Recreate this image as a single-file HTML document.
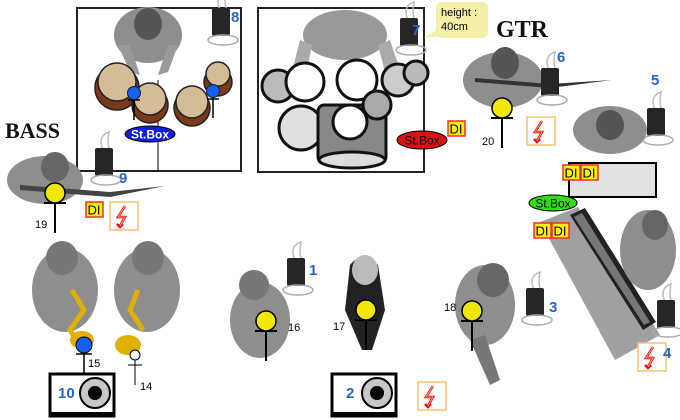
<!DOCTYPE html>
<html><head><meta charset="utf-8"><style>
html,body{margin:0;padding:0;background:#fff;width:680px;height:420px;overflow:hidden}
svg{display:block}
.n{font-family:"Liberation Sans",sans-serif;font-weight:bold;fill:#2a62d0;font-size:15px}
.l{font-family:"Liberation Sans",sans-serif;fill:#000;font-size:11px}
.di{font-family:"Liberation Sans",sans-serif;font-size:13px;fill:#000}
</style></head><body>
<svg width="680" height="420" viewBox="0 0 680 420" xmlns="http://www.w3.org/2000/svg">
<defs>
<g id="pack"><path d="M8 2 q-6 -14 6 -18 q-2 10 0 16" fill="none" stroke="#bbb" stroke-width="1.5"/><rect x="0" y="0" width="18" height="28" rx="2" fill="#262626"/><ellipse cx="11" cy="32" rx="15" ry="5" fill="none" stroke="#aaa" stroke-width="1.5"/></g>
<g id="pw"><rect x="0" y="0" width="28" height="28" fill="#fff" stroke="#f8c070" stroke-width="1.5"/><path d="M15 4 L8 15 L15 15 L10 24 M7 22 L10 25 L13 22" fill="none" stroke="#e81010" stroke-width="2.5"/><path d="M15 4 L8 15 L15 15 L10 24" fill="none" stroke="#ffb080" stroke-width="0.8"/></g>
<g id="dib"><rect x="0" y="0" width="17" height="15" fill="#ffee00" stroke="#e8302a" stroke-width="1.5"/><text x="1.5" y="12.5" class="di">DI</text></g>
<g id="mic"><line x1="0" y1="10" x2="0" y2="40" stroke="#000" stroke-width="2"/><line x1="-11" y1="10" x2="11" y2="10" stroke="#000" stroke-width="2"/><circle cx="0" cy="0" r="10" fill="#f0e800" stroke="#000" stroke-width="1.5"/></g>
<g id="spk"><rect x="0" y="0" width="64" height="42" fill="#fff" stroke="#000" stroke-width="3"/><rect x="0" y="38" width="64" height="5" fill="#000"/><circle cx="45" cy="19" r="15" fill="#c8c8c8" stroke="#000" stroke-width="2"/><circle cx="45" cy="19" r="7" fill="#000"/></g>
</defs>

<rect x="77" y="8" width="164" height="163" fill="#fff" stroke="#222" stroke-width="2"/>
<line x1="158" y1="80" x2="158" y2="171" stroke="#000" stroke-width="1"/>
<ellipse cx="148" cy="35" rx="34" ry="28" fill="#8e8e8e"/>
<ellipse cx="148" cy="24" rx="14" ry="16" fill="#555"/>
<path d="M118 45 L130 72 L140 75 L130 45Z M178 45 L168 72 L158 75 L168 45Z" fill="#999"/>
<g stroke="#222" stroke-width="1.5">
<circle cx="117" cy="88" r="22" fill="#7a3a18"/><circle cx="117" cy="82" r="19" fill="#d4bd96"/>
<circle cx="150" cy="105" r="18" fill="#7a3a18"/><circle cx="150" cy="99" r="16" fill="#d4bd96"/>
<circle cx="192" cy="108" r="18" fill="#7a3a18"/><circle cx="192" cy="102" r="16" fill="#d4bd96"/>
<circle cx="218" cy="82" r="14" fill="#7a3a18"/><circle cx="218" cy="74" r="12" fill="#d4bd96"/>
</g>
<line x1="134" y1="95" x2="134" y2="120" stroke="#000" stroke-width="1.5"/><line x1="128" y1="100" x2="140" y2="100" stroke="#000" stroke-width="1.5"/><circle cx="134" cy="93" r="6.5" fill="#1560f0" stroke="#123" />
<line x1="213" y1="93" x2="213" y2="118" stroke="#000" stroke-width="1.5"/><line x1="207" y1="99" x2="219" y2="99" stroke="#000" stroke-width="1.5"/><circle cx="213" cy="91" r="6.5" fill="#1560f0" stroke="#123"/>
<ellipse cx="150" cy="134" rx="25" ry="8" fill="#1020e0" stroke="#000"/>
<text x="150" y="138.5" text-anchor="middle" font-family="Liberation Sans,sans-serif" font-weight="bold" font-size="12" fill="#fff">St.Box</text>
<use href="#pack" x="212" y="8"/><text x="231" y="22" class="n">8</text>

<text x="5" y="138" font-family="Liberation Serif,serif" font-weight="bold" font-size="22" fill="#111">BASS</text>
<ellipse cx="45" cy="180" rx="38" ry="24" fill="#8e8e8e"/>
<ellipse cx="55" cy="167" rx="14" ry="15" fill="#666"/>
<path d="M20 190 L110 197 L165 186 L110 192 L20 185Z" fill="#444"/>
<use href="#pack" x="95" y="148"/><text x="119" y="183" class="n">9</text>
<use href="#mic" x="55" y="193"/><text x="35" y="228" class="l">19</text>
<use href="#dib" x="86" y="202"/><use href="#pw" x="110" y="202"/>

<rect x="258" y="8" width="166" height="164" fill="#fff" stroke="#222" stroke-width="2"/>
<ellipse cx="345" cy="35" rx="42" ry="25" fill="#999"/>
<path d="M300 40 L290 80 L305 80 L312 45Z M390 40 L400 70 L385 72 L378 45Z" fill="#aaa"/>
<g stroke="#111" stroke-width="3">
<circle cx="278" cy="86" r="16" fill="#bbb"/>
<circle cx="305" cy="82" r="19" fill="#fff"/>
<circle cx="357" cy="80" r="20" fill="#fff"/>
<circle cx="398" cy="80" r="16" fill="#ccc"/>
<circle cx="416" cy="73" r="12" fill="#bbb"/>
<circle cx="301" cy="128" r="22" fill="#e0e0e0"/>
<rect x="318" y="105" width="68" height="58" rx="6" fill="#888"/>
<ellipse cx="352" cy="160" rx="33" ry="8" fill="#ddd"/>
<circle cx="350" cy="122" r="17" fill="#fff"/>
<circle cx="377" cy="105" r="14" fill="#aaa"/>
</g>
<use href="#pack" x="400" y="18"/><text x="412" y="35" class="n">7</text>
<path d="M424 38 L440 28 L442 36Z" fill="#f4efa6"/>
<rect x="436" y="2" width="52" height="36" rx="6" fill="#f4efa6"/>
<text x="441" y="16" font-family="Liberation Sans,sans-serif" font-size="11">height :</text>
<text x="441" y="30" font-family="Liberation Sans,sans-serif" font-size="11">40cm</text>
<ellipse cx="422" cy="140" rx="25" ry="9" fill="#e01010" stroke="#000"/>
<text x="422" y="144.5" text-anchor="middle" font-family="Liberation Sans,sans-serif" font-size="12" fill="#000">St.Box</text>
<use href="#dib" x="448" y="121"/>

<text x="496" y="37" font-family="Liberation Serif,serif" font-weight="bold" font-size="24" fill="#111">GTR</text>
<ellipse cx="503" cy="80" rx="40" ry="28" fill="#8e8e8e"/>
<ellipse cx="505" cy="63" rx="14" ry="16" fill="#555"/>
<path d="M475 82 L550 88 L612 80 L550 84 L475 78Z" fill="#333"/>
<use href="#pack" x="541" y="68"/><text x="557" y="62" class="n">6</text>
<use href="#mic" x="502" y="108"/><text x="482" y="145" class="l">20</text>
<use href="#pw" x="527" y="117"/>
<use href="#pack" x="647" y="108"/><text x="651" y="85" class="n">5</text>
<ellipse cx="610" cy="130" rx="37" ry="24" fill="#8e8e8e"/>
<ellipse cx="610" cy="125" rx="14" ry="15" fill="#555"/>
<rect x="569" y="163" width="87" height="34" fill="#e2e2e2" stroke="#000" stroke-width="2"/>
<use href="#dib" x="563" y="165"/><use href="#dib" x="581" y="165"/>
<ellipse cx="553" cy="203" rx="24" ry="8" fill="#30e010" stroke="#000"/>
<text x="553" y="207.5" text-anchor="middle" font-family="Liberation Sans,sans-serif" font-size="12" fill="#000">St.Box</text>

<polygon points="540,222 578,207 660,335 615,360" fill="#a0a0a0"/>
<polygon points="570,215 585,208 656,322 643,330" fill="#222"/>
<polygon points="574,217 582,213 650,322 644,325" fill="#777"/>
<ellipse cx="648" cy="250" rx="28" ry="40" fill="#8e8e8e"/>
<ellipse cx="655" cy="225" rx="13" ry="15" fill="#666"/>
<use href="#dib" x="534" y="223"/><use href="#dib" x="552" y="223"/>
<use href="#pack" x="657" y="300"/>
<use href="#pw" x="638" y="343"/><text x="663" y="358" class="n">4</text>

<ellipse cx="65" cy="290" rx="33" ry="42" fill="#8e8e8e"/>
<ellipse cx="62" cy="258" rx="16" ry="17" fill="#777"/>
<path d="M72 290 L84 310 L70 330 L80 345" fill="none" stroke="#e0b000" stroke-width="5"/>
<ellipse cx="82" cy="340" rx="12" ry="9" fill="#e0b000"/>
<ellipse cx="147" cy="290" rx="33" ry="42" fill="#8e8e8e"/>
<ellipse cx="148" cy="258" rx="16" ry="17" fill="#777"/>
<path d="M138 290 L130 310 L143 330" fill="none" stroke="#e0b000" stroke-width="5"/>
<ellipse cx="128" cy="345" rx="13" ry="10" fill="#e0b000"/>
<line x1="84" y1="350" x2="84" y2="375" stroke="#000" stroke-width="1.5"/><line x1="76" y1="354" x2="92" y2="354" stroke="#000" stroke-width="1.5"/>
<circle cx="84" cy="345" r="8" fill="#1560f0" stroke="#000"/>
<text x="88" y="367" class="l">15</text>
<line x1="135" y1="360" x2="135" y2="385" stroke="#000" stroke-width="1"/><line x1="128" y1="365" x2="142" y2="365" stroke="#000"/>
<circle cx="135" cy="355" r="5" fill="#fff" stroke="#000"/>
<text x="140" y="390" class="l">14</text>
<use href="#spk" x="50" y="374"/><text x="58" y="398" class="n">10</text>

<ellipse cx="260" cy="320" rx="30" ry="38" fill="#8e8e8e"/>
<ellipse cx="254" cy="285" rx="15" ry="15" fill="#777"/>
<use href="#pack" x="287" y="258"/><text x="309" y="275" class="n">1</text>
<use href="#mic" x="266" y="321"/><text x="288" y="331" class="l">16</text>
<path d="M350 265 Q362 250 378 265 L385 310 L372 350 L362 350 L345 310Z" fill="#222"/>
<ellipse cx="365" cy="270" rx="13" ry="15" fill="#bbb"/>
<use href="#mic" x="366" y="310"/><text x="333" y="330" class="l">17</text>
<use href="#spk" x="332" y="374"/><text x="346" y="398" class="n">2</text>
<use href="#pw" x="418" y="382"/>
<ellipse cx="485" cy="305" rx="30" ry="40" fill="#8e8e8e"/>
<ellipse cx="493" cy="280" rx="16" ry="17" fill="#666"/>
<path d="M470 340 L490 385 L500 380 L485 335Z" fill="#777"/>
<use href="#pack" x="526" y="288"/><text x="549" y="312" class="n">3</text>
<use href="#mic" x="472" y="311"/><text x="444" y="311" class="l">18</text>
</svg>
</body></html>
